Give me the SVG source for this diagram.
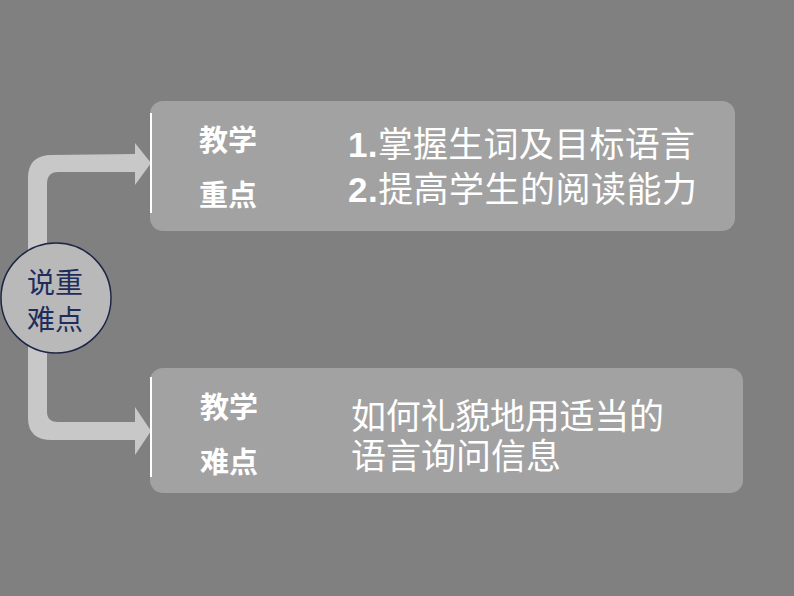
<svg xmlns="http://www.w3.org/2000/svg" width="794" height="596" viewBox="0 0 794 596">
<style>
.box{fill:#a2a2a2}
.edge{stroke:#ffffff;stroke-width:2;fill:none}
.lbl{font-family:"Liberation Sans","Noto Sans CJK SC",sans-serif;font-weight:bold;font-size:29px;fill:#ffffff}
.txt{font-family:"Liberation Sans","Noto Sans CJK SC",sans-serif;font-size:35px;fill:#ffffff}
.num{font-weight:bold}
.arrow{fill:#c8c8c8}
.ctext{font-family:"Noto Sans CJK SC",sans-serif;font-size:28px;fill:#1f2d5a}
</style>
<rect width="794" height="596" fill="#808080"/>
<g id="connectors">
<path class="arrow" d="M28,430 L28,178 Q28,155 52,155 L135,154 L135,143 L151,163 L135,185 L135,172 L58,172 Q47,172 47,184 L47,412 Q47,422 58,422 L135,422 L135,407 L151,431 L135,455 L135,440 L52,440 Q28,440 28,418 Z"/>
</g>
<g id="node-center">
<circle cx="56" cy="298" r="55" fill="#b9b9b9" stroke="#1c2748" stroke-width="1.5"/>
<text class="ctext" x="55" y="293" text-anchor="middle">说重</text>
<text class="ctext" x="55" y="330" text-anchor="middle">难点</text>
</g>
<g id="node-zhongdian">
<rect class="box" x="150" y="101" width="585" height="130" rx="13"/>
<path class="edge" d="M151,113 L151,213"/>
<text class="lbl" x="199" y="151">教学</text>
<text class="lbl" x="199" y="206">重点</text>
<text class="txt" x="348" y="157" textLength="347" lengthAdjust="spacing"><tspan class="num">1.</tspan>掌握生词及目标语言</text>
<text class="txt" x="348" y="202" textLength="349" lengthAdjust="spacing"><tspan class="num">2.</tspan>提高学生的阅读能力</text>
</g>
<g id="node-nandian">
<rect class="box" x="150" y="368" width="593" height="125" rx="13"/>
<path class="edge" d="M151,377 L151,477"/>
<text class="lbl" x="200" y="418">教学</text>
<text class="lbl" x="200" y="473">难点</text>
<text class="txt" x="351" y="429" textLength="313" lengthAdjust="spacing">如何礼貌地用适当的</text>
<text class="txt" x="351" y="469">语言询问信息</text>
</g>
</svg>
